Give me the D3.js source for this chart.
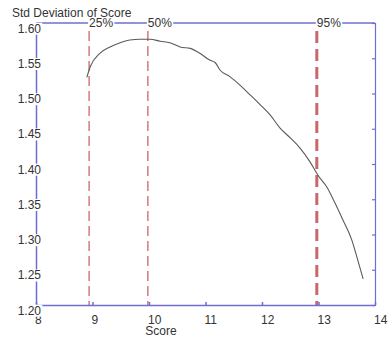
<!DOCTYPE html>
<html><head><meta charset="utf-8">
<script src="https://cdn.jsdelivr.net/npm/d3@7"></script>
<style>body{margin:0;background:#fff}svg{display:block;font-family:"Liberation Sans",Arial,sans-serif}</style>
</head><body><svg id="c" width="388" height="341"></svg>
<script>
const scores = [8.90,8.96,9.13,9.31,9.49,9.66,9.84,10.02,10.20,10.37,10.55,10.73,10.90,11.08,11.17,11.26,11.43,11.61,11.79,11.97,12.14,12.32,12.50,12.67,12.85,12.99,13.15,13.29,13.43,13.59,13.68,13.79];
const stdDevs = [1.523,1.538,1.557,1.566,1.572,1.576,1.577,1.577,1.574,1.572,1.566,1.564,1.557,1.547,1.544,1.533,1.524,1.512,1.498,1.484,1.470,1.451,1.437,1.423,1.403,1.384,1.367,1.345,1.321,1.292,1.268,1.237];
const pctLabels = ["25%","50%","95%"];
const pctScores = [8.94,9.98,12.97];
const xTicks = [8,9,10,11,12,13,14];
const yTicks = [1.20,1.25,1.30,1.35,1.40,1.45,1.50,1.55,1.60];

const svg = d3.select("#c");
const L=36,R=375,T=23,B=305;
const x = d3.scaleLinear().domain([8,14]).range([L,R]);
const y = d3.scaleLinear().domain([1.20,1.60]).range([B,T]);
const blue="#6e6ed2", red="#c9676b", txt="#333";

// dashed percentile lines
pctScores.forEach((s,i)=>{
  const thick = i===2;
  svg.append("line").attr("x1",x(s)).attr("x2",x(s)).attr("y1",31).attr("y2",B)
    .attr("stroke",red).attr("stroke-width",thick?3:1.3)
    .attr("stroke-dasharray",thick?"12,6":"10,5");
});

// frame lines
svg.append("line").attr("x1",L).attr("x2",R).attr("y1",T).attr("y2",T).attr("stroke",blue).attr("stroke-width",1.5);
svg.append("g").attr("transform",`translate(${R},0)`)
  .call(d3.axisRight(y).tickValues(yTicks).tickSize(-3).tickFormat(""))
  .call(g=>g.selectAll("path,line").attr("stroke",blue).attr("stroke-width",1.2));

// bottom axis
const gx = svg.append("g").attr("transform",`translate(0,${B})`)
  .call(d3.axisBottom(x).tickValues(xTicks).tickSize(-3).tickSizeOuter(0).tickFormat(d3.format("d")));
gx.selectAll("path,line").attr("stroke",blue).attr("stroke-width",1.5);
gx.selectAll("text").attr("text-anchor","start").attr("x",-1.5).attr("y",15).attr("dy","0.35em")
  .attr("fill",txt).style("font-size","12px").style("font-family","Liberation Sans, Arial, sans-serif");

// left axis
const gy = svg.append("g").attr("transform",`translate(${L},0)`)
  .call(d3.axisLeft(y).tickValues(yTicks).tickSize(0).tickSizeOuter(0).tickFormat(d3.format(".2f")));
gy.selectAll("path").attr("stroke",blue).attr("stroke-width",1.5);
gy.selectAll("text").attr("text-anchor","end").attr("x",5).attr("dy","0.35em").attr("y",5)
  .attr("fill",txt).style("font-size","12px").style("font-family","Liberation Sans, Arial, sans-serif");
gy.selectAll(".tick").each(function(){
  const t=d3.select(this).select("text"); const b=t.node().getBBox();
  d3.select(this).insert("rect","text").attr("x",b.x-1).attr("y",b.y+1).attr("width",b.width+2).attr("height",b.height-2).attr("fill","#fff");
});

// percentile labels on top
pctScores.forEach((s,i)=>{
  const g = svg.append("g");
  const bg = g.append("rect").attr("fill","#fff");
  const t = g.append("text").attr("x",x(s)).attr("y",T).attr("dy","0.35em")
    .attr("fill",txt).style("font-size","12px").text(pctLabels[i]);
  const b=t.node().getBBox();
  bg.attr("x",b.x-1).attr("y",b.y+1).attr("width",b.width+2).attr("height",b.height-2);
});

// curve
svg.append("path").datum(scores.map((s,i)=>[s,stdDevs[i]]))
  .attr("d",d3.line().x(d=>x(d[0])).y(d=>y(d[1])).curve(d3.curveMonotoneX))
  .attr("fill","none").attr("stroke","#5a5a5a").attr("stroke-width",1.1);

// titles
svg.append("text").attr("x",12).attr("y",17).attr("fill",txt).style("font-size","12px").text("Std Deviation of Score");
svg.append("text").attr("x",161).attr("y",335).attr("text-anchor","middle").attr("fill",txt).style("font-size","12px").text("Score");
</script></body></html>
